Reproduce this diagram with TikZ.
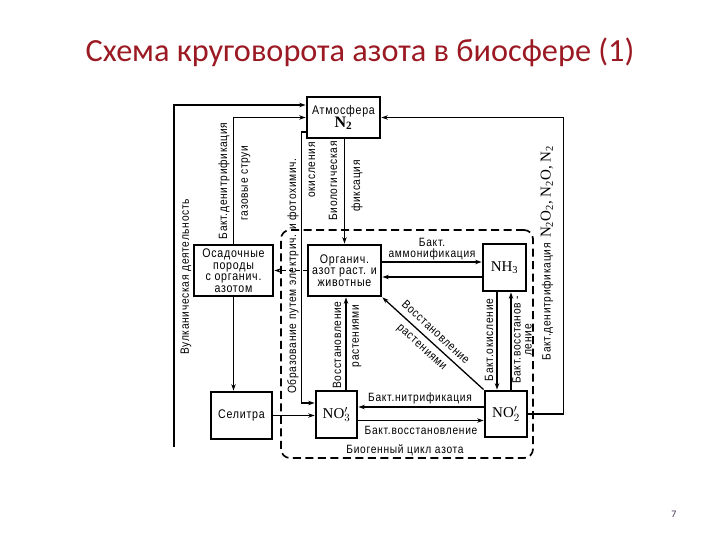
\documentclass[tikz,border=0pt]{standalone}
\usepackage{fontspec}
\setmainfont{Liberation Sans}
\newfontfamily\dgfont{Liberation Sans}[FakeStretch=0.85,LetterSpace=6]
\newfontfamily\chemfont{Liberation Serif}
\newfontfamily\titlefont{Carlito}
\usetikzlibrary{arrows.meta,calc}
\definecolor{titlered}{RGB}{155,25,35}
\definecolor{pagegray}{RGB}{70,50,80}
\begin{document}
\begin{tikzpicture}[x=1pt,y=-1pt,
  box/.style={draw, line width=2.8pt, inner sep=1pt, align=center,
    font=\dgfont\fontsize{12.5}{11.5}\selectfont},
  lbl/.style={font=\dgfont\fontsize{12}{11}\selectfont, inner sep=0pt, align=center},
  chem/.style={font=\chemfont\fontsize{15}{15}\selectfont},
  arr/.style={-{Stealth[length=6.5pt,width=4.5pt]}, line width=1.3pt},
  ln/.style={line width=1.3pt}]
\useasboundingbox (0,0) rectangle (720,540);
% title
\node[font=\titlefont\fontsize{32.3}{32}\selectfont, text=titlered, anchor=base] (title) at (360,62) {Схема круговорота азота в биосфере (1)};
\node[font=\titlefont\fontsize{10}{10}\selectfont, text=pagegray] (page) at (674,514) {7};
% biogenic cycle frame
\node[draw, dashed, dash pattern=on 8pt off 4.5pt, line width=1.7pt, rounded corners=9pt,
  minimum width=252pt, minimum height=228pt] (bio) at (407,344) {};
\node[lbl] (biolbl) at (405,450) {Биогенный цикл азота};
% boxes
\node[box, minimum width=73pt, minimum height=41pt] (atm) at (343.5,117.5)
  {Атмосфера\\[-1pt]{\chemfont\bfseries\fontsize{16}{16}\selectfont N\textsubscript{2}}};
\node[box, minimum width=73pt, minimum height=51pt] (org) at (344.5,270.5)
  {Органич.\\азот раст. и\\животные};
\node[box, minimum width=79pt, minimum height=51pt] (osad) at (233.5,270.5)
  {Осадочные\\породы\\с органич.\\азотом};
\node[box, minimum width=43pt, minimum height=47pt, chem] (nh3) at (504.5,267.5)
  {NH\textsubscript{3}};
\node[box, minimum width=61pt, minimum height=47pt] (sel) at (241.5,415.5) {Селитра};
\node[box, minimum width=41pt, minimum height=47pt, chem] (no3) at (336.5,414.5)
  {NO$^{\prime}_{3}$};
\node[box, minimum width=42pt, minimum height=46pt, chem] (no2) at (506,414)
  {NO$^{\prime}_{2}$};
% connectors
\coordinate (volc) at (174,447);
\draw[arr] (volc) |- ([yshift=12.5pt]atm.west);
\draw[arr] (osad.north) |- (atm.west);
\draw[arr] (no2.east) -- ++(35,0) |- (atm.east);
\draw[arr] ([yshift=-14.5pt]atm.west) -- ++(-4,0) |- ([yshift=11.5pt]no3.west);
\draw[arr] (org.north |- atm.south) -- (org.north);
\draw[arr, dashed, dash pattern=on 4pt off 3pt] (org.west) -- (osad.east);
\draw[arr] ([yshift=8.5pt]org.east) -- ([yshift=8.5pt]org.east -| nh3.west);
\draw[arr] ([yshift=-6.5pt]org.east -| nh3.west) -- ([yshift=-6.5pt]org.east);
\draw[arr] ([xshift=-7.5pt]nh3.south) -- ([xshift=-7.5pt]nh3.south |- no2.north);
\draw[arr] ([xshift=6.5pt]nh3.south |- no2.north) -- ([xshift=6.5pt]nh3.south);
\draw[arr] (no2.north west) -- (org.south east);
\draw[arr] ([xshift=9.5pt]no3.north) -- ([xshift=9.5pt]no3.north |- org.south);
\draw[arr] ([yshift=7pt]no2.west) -- ([yshift=7pt]no2.west -| no3.east);
\draw[arr] ([yshift=-6pt]no3.east) -- ([yshift=-6pt]no3.east -| no2.west);
\draw[arr] (osad.south) -- (osad.south |- sel.north);
\draw[arr, line width=0.9pt] (sel.east) -- (sel.east -| no3.west);
% labels
\node[lbl, rotate=90] (lvolc) at (186,277) {Вулканическая деятельность};
\node[lbl, rotate=90] (ldenl) at (224,181) {Бакт.денитрификация};
\node[lbl, rotate=90] (lgas) at (246,183) {газовые струи};
\node[lbl, rotate=90] (lelec) at (293,276) {Образование путем электрич. и фотохимич.};
\node[lbl, rotate=90] (lox) at (312,170) {окисления};
\node[lbl, rotate=90] (lbio1) at (333,181) {Биологическая};
\node[lbl, rotate=90] (lbio2) at (357,186) {фиксация};
\node[lbl] (lamm) at (432,249) {Бакт.\\аммонификация};
\node[lbl, rotate=90] (lokis) at (489,340) {Бакт.окисление};
\node[lbl, rotate=90] (lvos) at (522,340) {Бакт.восстанов -\\ление};
\node[lbl, rotate=90] (ldenr) at (547,253) {Бакт.денитрификация\,
  {\chemfont\fontsize{15}{15}\selectfont N\textsubscript{2}O\textsubscript{2}, N\textsubscript{2}O, N\textsubscript{2}}};
\node[lbl, rotate=-42.6] (ldiag1) at (436,332) {Восстановление};
\node[lbl, rotate=-42.6] (ldiag2) at (421,348) {растениями};
\node[lbl, rotate=90] (lrv1) at (337,345) {Восстановление};
\node[lbl, rotate=90] (lrv2) at (357,336) {растениями};
\node[lbl] (lnitr) at (420,398) {Бакт.нитрификация};
\node[lbl] (lred) at (421,430) {Бакт.восстановление};
\end{tikzpicture}
\end{document}
